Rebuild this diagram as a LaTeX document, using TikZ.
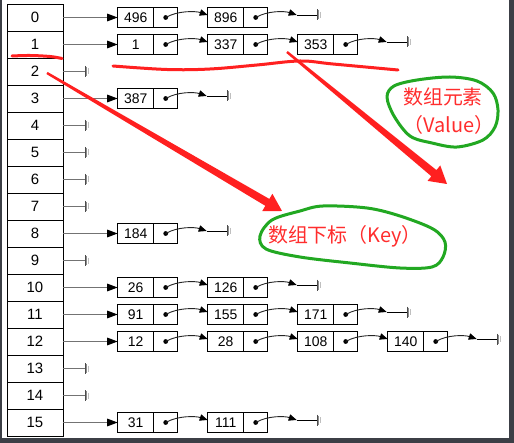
\documentclass[tikz,border=0pt]{standalone}
\usepackage{fontspec}
\setmainfont{Liberation Sans}
\newfontfamily\cjkfont{Noto Sans CJK SC}
\usetikzlibrary{arrows.meta,calc}
\definecolor{redmark}{RGB}{255,32,32}
\definecolor{redtext}{RGB}{255,45,45}
\definecolor{greenmark}{RGB}{34,168,34}
\definecolor{frame}{RGB}{60,63,70}
\newcommand{\redarrowpoly}[2]{%
  \coordinate (#2b) at ($(#2)!17bp!(#1)$);
  \fill[redmark] ($(#1)!1.2bp!90:(#2)$) -- ($(#2b)!4bp!90:(#2)$) -- ($(#2b)!10bp!90:(#2)$) -- (#2)
    -- ($(#2b)!10bp!-90:(#2)$) -- ($(#2b)!4bp!-90:(#2)$) -- ($(#1)!1.2bp!-90:(#2)$) -- cycle;}
\begin{document}
\begin{tikzpicture}[x=1bp,y=-1bp,
  every node/.style={inner sep=0pt,outer sep=0pt},
  cell/.style={draw,line width=0.8bp,minimum width=56bp,minimum height=27bp,font=\fontsize{15}{15}\selectfont},
  valbox/.style={draw,line width=0.8bp,minimum width=36bp,minimum height=20bp,anchor=west,font=\fontsize{14}{14}\selectfont},
  ptrbox/.style={draw,line width=0.8bp,minimum width=24bp,minimum height=20bp,anchor=west},
  headarr/.style={draw=black!55,line width=1.4bp,-{Triangle[length=10.5bp,width=7.5bp,color=black]}},
  headline/.style={draw=black!55,line width=1.4bp},
  linkarr/.style={draw=black!85,line width=0.9bp,-{Triangle[length=8bp,width=6.5bp,color=black]}},
  nulline/.style={draw=black,line width=0.9bp},
  gnd/.pic={\draw[black!70,line width=1bp] (0,-5.5) -- (0,5.5);
            \draw[black!45,line width=1bp] (1.7,-4.5) -- (1.7,4.5);
            \draw[black!25,line width=1bp] (3.4,-3) -- (3.4,3);},
  redstroke/.style={draw=redmark,line width=3bp,line cap=round,line join=round},
  greenring/.style={draw=greenmark,line width=3bp,line join=round},
  anno/.style={text=redtext,font=\cjkfont\fontsize{20}{24}\selectfont}
]
\useasboundingbox (0,0) rectangle (514,443);
\fill[white] (0,0) rectangle (514,443);
\fill[frame] (0,0) rectangle (2,443);
\fill[frame] (509,0) rectangle (514,443);
\fill[frame] (0,438) rectangle (514,443);
% array
\foreach \r in {0,...,15} {
  \node[cell] (c\r) at (35,{17.5+27*\r}) {\r};
}
% empty buckets
\foreach \r in {2,4,5,6,7,9,13,14} {
  \coordinate (g\r) at ($(c\r.east)+(22,0)$);
  \draw[headline] (c\r.east) -- (g\r);
  \pic at (g\r) {gnd};
}
% chains
\foreach \r/\n/\vals in {0/2/{496,896},1/3/{1,337,353},3/1/{387},8/1/{184},10/2/{26,126},11/3/{91,155,171},12/4/{12,28,108,140},15/2/{31,111}} {
  \foreach \v [count=\k] in \vals {
    \node[valbox] (v\r-\k) at ({117.7+90*(\k-1)},{17.5+27*\r}) {\v};
    \node[ptrbox] (p\r-\k) at (v\r-\k.east) {};
    \fill (p\r-\k.center) circle (2.4bp);
  }
  \draw[headarr] (c\r.east) -- (v\r-1.west);
  \foreach \k in {1,...,\n} {
    \pgfmathtruncatemacro\kn{\k+1}
    \ifnum\k<\n\relax
      \draw[linkarr] (p\r-\k.center) .. controls +(12,-7) and +(-12,-4) .. ($(v\r-\kn.west)+(0,-2.5)$);
    \else
      \coordinate (t\r) at ($(p\r-\k.center)+(41,-2.5)$);
      \coordinate (n\r) at ($(p\r-\k.center)+(61.5,-2.5)$);
      \draw[linkarr] (p\r-\k.center) .. controls +(12,-7) and +(-12,-4) .. (t\r);
      \draw[nulline] (t\r) -- (n\r);
      \pic at (n\r) {gnd};
    \fi
  }
}
% annotations
\draw[redstroke] plot[smooth,tension=0.6] coordinates {(12,56) (30,55.5) (50,56.5) (62,58.5)};
\draw[redstroke] plot[smooth,tension=0.6] coordinates {(113,66) (167,69.5) (210,69) (257,65) (300,61) (333,64) (398,70)};
\coordinate (ra) at (47,73);
\coordinate (rae) at (282,211);
\coordinate (rb) at (287,52);
\coordinate (rbe) at (447,184);
\redarrowpoly{ra}{rae}
\redarrowpoly{rb}{rbe}
\draw[greenring] plot[smooth cycle,tension=0.55] coordinates {(387,97) (394,86) (417,80) (450,77) (477,81) (493,93) (498,110) (495,127) (483,140) (457,147) (432,143) (410,136) (394,116)};
\draw[greenring] plot[smooth cycle,tension=0.55] coordinates {(260,236) (272,220) (300,211) (323,206) (367,208) (400,216) (433,229) (445,242) (443,257) (432,267) (400,268) (350,263) (300,257) (266,249)};
\node[anno] (vl1) at (443,97) {数组元素};
\node[anno] (vl2) at (449,125) {（Value）};
\node[anno] (kl) at (345,236) {数组下标（Key）};
\end{tikzpicture}
\end{document}
